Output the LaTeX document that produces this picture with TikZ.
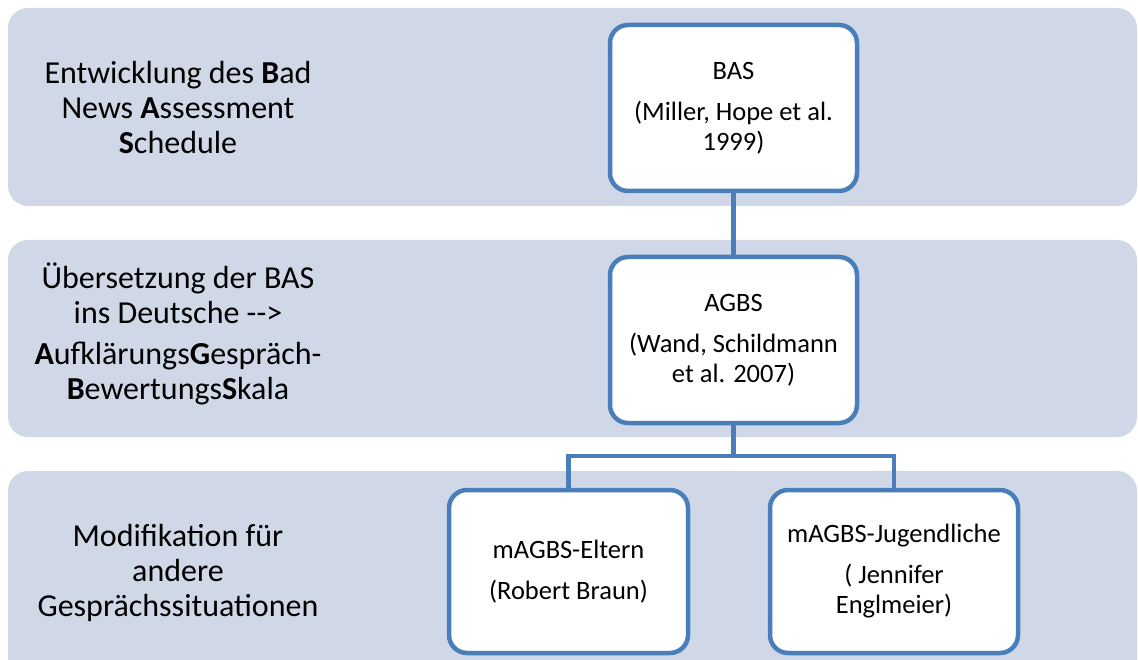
\documentclass[tikz,border=0pt]{standalone}
\usepackage{fontspec}
\setmainfont{Carlito}
\definecolor{bandfill}{HTML}{D0D8E8}
\definecolor{boxline}{HTML}{4A7EBB}

\begin{document}
\begin{tikzpicture}[x=1pt,y=-1pt,
  band/.style={fill=bandfill,rounded corners=20pt},
  stage/.style={align=center,font=\fontsize{32}{35}\selectfont},
  entry/.style={draw=boxline,line width=4.5pt,fill=white,rounded corners=18pt,
    minimum height=166pt,align=center,inner sep=0pt,
    font=\fontsize{26.5}{30}\selectfont},
  link/.style={draw=boxline,line width=4.5pt}]

  \useasboundingbox (0,0) rectangle (1138,660);
  \clip (0,0) rectangle (1138,660);

  % bands
  \fill[band] (8,8) rectangle (1137,206);
  \fill[band] (8,240) rectangle (1137,437);
  \fill[band] (8,471) rectangle (1137,700);

  \node[stage] (dev) at (178,108)
    {Entwicklung des \textbf{B}ad\\News \textbf{A}ssessment\\\textbf{S}chedule};
  \node[stage] (trans) at (178,334)
    {Übersetzung der BAS\\ins Deutsche -{}->\\[6pt]
     \textbf{A}ufklärungs\textbf{G}espräch-\\\textbf{B}ewertungs\textbf{S}kala};
  \node[stage] (modif) at (178,573)
    {Modifikation für\\andere\\Gesprächssituationen};

  % boxes
  \node[entry,minimum width=247pt] (bas) at (733.5,108)
    {BAS\\[11pt](Miller, Hope et al.\\1999)};
  \node[entry,minimum width=247pt] (agbs) at (733.5,340)
    {AGBS\\[11pt](Wand, Schildmann\\et al. 2007)};
  \node[entry,minimum width=239pt,minimum height=163pt] (eltern) at (568.5,571.5)
    {mAGBS-Eltern\\[11pt](Robert Braun)};
  \node[entry,minimum width=248pt,minimum height=163pt] (jugend) at (894,571.5)
    {mAGBS-Jugendliche\\[11pt]( Jennifer\\Englmeier)};

  \coordinate (split) at (733.5,456);
  \draw[link] (bas.south) -- (agbs.north);
  \draw[link] (agbs.south) -- (split);
  \foreach \child in {eltern,jugend}
    \draw[link] (split) -| (\child.north);

\end{tikzpicture}
\end{document}
